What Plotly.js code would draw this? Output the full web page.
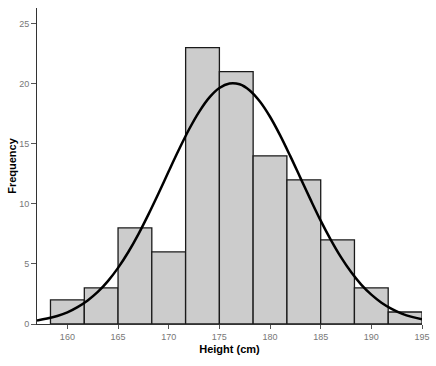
<!DOCTYPE html>
<html>
<head>
<meta charset="utf-8">
<script src="https://cdn.plot.ly/plotly-3.0.1.min.js"></script>
<style>html,body{margin:0;padding:0;background:#fff;}#chart{width:436px;height:366px;}</style>
</head>
<body>
<div id="chart"></div>
<script>
// Histogram bins (left edges, cm) and frequencies
const binStarts = [158.33, 161.67, 165, 168.33, 171.67, 175, 178.33, 181.67, 185, 188.33, 191.67];
const binWidth = 3.333;
const counts = [2, 3, 8, 6, 23, 21, 14, 12, 7, 3, 1];

// Fitted normal curve
const curveX = [157,158,159,160,161,162,163,164,165,166,167,168,169,170,171,172,173,174,175,176,177,178,179,180,181,182,183,184,185,186,187,188,189,190,191,192,193,194,195];
const curveY = [0.29,0.45,0.67,0.97,1.40,1.96,2.67,3.57,4.67,5.97,7.46,9.12,10.88,12.71,14.50,16.19,17.66,18.84,19.64,20.02,19.95,19.44,18.52,17.25,15.70,13.97,12.16,10.35,8.60,7.00,5.56,4.32,3.28,2.44,1.77,1.26,0.87,0.59,0.39];

const xTicks = [160, 165, 170, 175, 180, 185, 190, 195];
const yTicks = [0, 5, 10, 15, 20, 25];

const centers = binStarts.map(s => s + binWidth / 2);

const traces = [
  {
    type: 'bar',
    x: centers,
    y: counts,
    width: binWidth,
    marker: { color: '#cccccc', line: { color: '#1a1a1a', width: 1.3 } },
    hoverinfo: 'none'
  },
  {
    type: 'scatter',
    mode: 'lines',
    x: curveX,
    y: curveY,
    line: { color: '#000000', width: 2.5, shape: 'spline' },
    hoverinfo: 'none'
  }
];

const tickFont = { family: 'Arial, Liberation Sans, sans-serif', size: 9, color: '#777777' };
const titleFont = { family: 'Arial, Liberation Sans, sans-serif', size: 11, color: '#000000', weight: 'bold' };

const layout = {
  width: 436,
  height: 366,
  margin: { l: 37, r: 14, t: 8, b: 42 },
  paper_bgcolor: '#ffffff',
  plot_bgcolor: '#ffffff',
  showlegend: false,
  bargap: 0,
  xaxis: {
    range: [157, 195],
    tickvals: xTicks,
    ticktext: xTicks.map(String),
    ticks: 'outside',
    ticklen: 4,
    tickcolor: '#555555',
    tickfont: tickFont,
    showgrid: false,
    zeroline: false,
    showline: true,
    linecolor: '#333333',
    linewidth: 1,
    title: { text: '<b>Height (cm)</b>', font: titleFont, standoff: 4 }
  },
  yaxis: {
    range: [0, 26.3],
    tickvals: yTicks,
    ticktext: yTicks.map(String),
    ticks: 'outside',
    ticklen: 5,
    tickcolor: '#555555',
    tickfont: tickFont,
    showgrid: false,
    zeroline: false,
    showline: true,
    linecolor: '#333333',
    linewidth: 1,
    title: { text: '<b>Frequency</b>', font: titleFont, standoff: 0 }
  }
};

Plotly.newPlot('chart', traces, layout, { staticPlot: true, displayModeBar: false });
</script>
</body>
</html>
